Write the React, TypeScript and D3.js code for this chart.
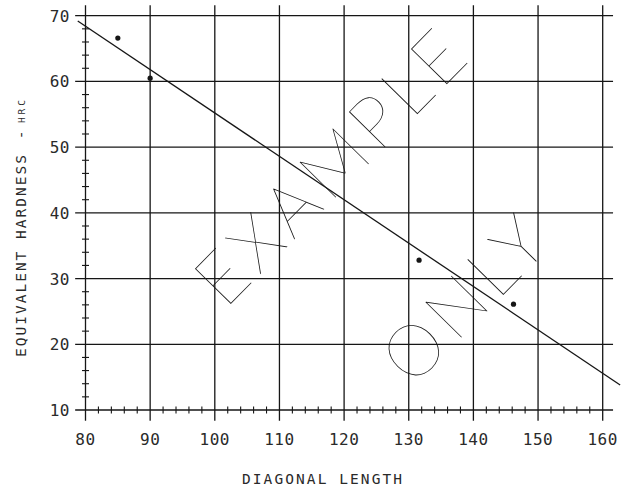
import * as d3 from 'd3';

// measured points (diagonal length vs equivalent hardness)
const diagonalLength = [85, 90, 131.6, 146.2];
const hardnessHRC = [66.6, 60.5, 32.8, 26.1];

// fitted line end points
const fitLength = [78.8, 162.7];
const fitHardness = [69.2, 13.8];

const xTickValues = [80, 90, 100, 110, 120, 130, 140, 150, 160];
const yTickValues = [10, 20, 30, 40, 50, 60, 70];

const WIDTH = 626;
const HEIGHT = 489;
const INK = '#161616';
const MONO = '"DejaVu Sans Mono", "Liberation Mono", monospace';
const THIN = 'Lato, "Open Sans", sans-serif';

export default function App() {
  const x = d3.scaleLinear().domain([80, 160]).range([85.5, 602.7]);
  const y = d3.scaleLinear().domain([10, 70]).range([410, 15.7]);

  const xMinor = d3.range(80, 162, 2).filter(v => v % 10 !== 0);
  const yMinor = d3.range(10, 70, 2).filter(v => v % 10 !== 0);

  const gridTop = y(71.6);
  const gridBottom = y(8.35);
  const gridLeft = x(78.4);
  const gridRight = x(161.6);

  const fitPts = fitLength.map((v, i) => [v, fitHardness[i]] as [number, number]);
  const line = d3.line<[number, number]>()
    .x(d => x(d[0]))
    .y(d => y(d[1]));

  return (
    <svg
      width={WIDTH}
      height={HEIGHT}
      style={{ position: 'absolute', left: 0, top: 0, background: '#fff' }}
    >
      {/* grid */}
      <g stroke={INK} strokeWidth={1.3} fill="none">
        {xTickValues.map(v => (
          <line key={'vx' + v} x1={x(v)} x2={x(v)} y1={gridTop} y2={gridBottom} />
        ))}
        {yTickValues.map(v => (
          <line key={'hy' + v} x1={gridLeft} x2={gridRight} y1={y(v)} y2={y(v)} />
        ))}
      </g>

      {/* minor ticks */}
      <g stroke={INK} strokeWidth={1.1}>
        {xMinor.map(v => (
          <line key={'mx' + v} x1={x(v)} x2={x(v)} y1={y(10) - 3.5} y2={y(10) + 3.5} />
        ))}
        {yMinor.map(v => (
          <line key={'my' + v} x1={x(80) - 3.5} x2={x(80) + 3.5} y1={y(v)} y2={y(v)} />
        ))}
      </g>

      {/* tick labels */}
      <g fontFamily={MONO} fontSize={16} fill="#2a2a2a">
        {xTickValues.map(v => (
          <text key={'tx' + v} x={x(v)} y={445} textAnchor="middle" letterSpacing={0.5}>
            {v}
          </text>
        ))}
        {yTickValues.map(v => (
          <text key={'ty' + v} x={70} y={y(v) + 6} textAnchor="end" letterSpacing={0.5}>
            {v}
          </text>
        ))}
      </g>

      {/* axis titles */}
      <g fontFamily={MONO} fill="#2a2a2a">
        <text x={242} y={484} fontSize={14.5} textLength={160} lengthAdjust="spacing">
          DIAGONAL LENGTH
        </text>
        <text
          transform="translate(26,357) rotate(-90)"
          fontSize={14.5}
          textLength={202}
          lengthAdjust="spacing"
        >
          EQUIVALENT HARDNESS
        </text>
        <text transform="translate(26,135) rotate(-90)" fontSize={14.5} textAnchor="middle">
          -
        </text>
        <text
          transform="translate(25,123) rotate(-90)"
          fontSize={9.5}
          textLength={23}
          lengthAdjust="spacing"
        >
          HRC
        </text>
      </g>

      {/* watermark */}
      <g fontFamily={THIN} fontWeight={100} fontSize={72} fill={INK}>
        <text
          transform="translate(225,310) rotate(-45.5)"
          textLength={350}
          lengthAdjust="spacing"
        >
          EXAMPLE
        </text>
        <text
          transform="translate(412,388) rotate(-45.5)"
          textLength={198}
          lengthAdjust="spacing"
        >
          ONLY
        </text>
      </g>

      {/* fitted line */}
      <path d={line(fitPts) || ''} stroke={INK} strokeWidth={1.3} fill="none" />

      {/* points */}
      <g fill={INK}>
        {diagonalLength.map((v, i) => (
          <circle key={'p' + i} cx={x(v)} cy={y(hardnessHRC[i])} r={2.6} />
        ))}
      </g>
    </svg>
  );
}
